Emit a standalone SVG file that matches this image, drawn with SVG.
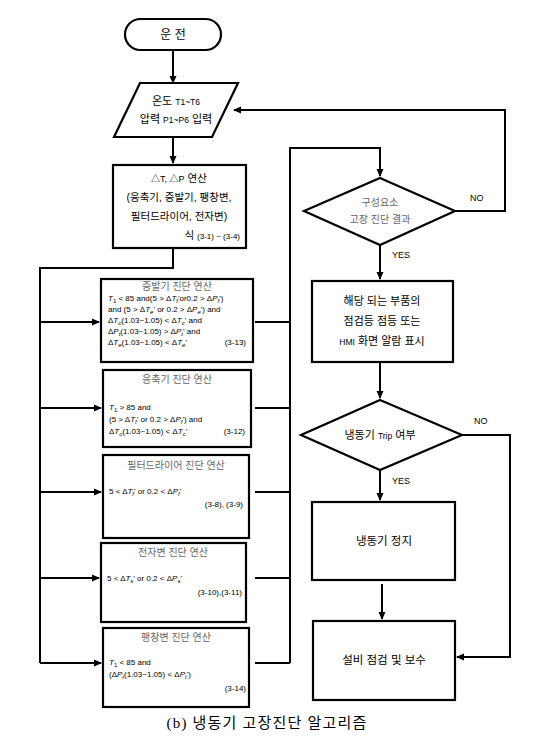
<svg xmlns="http://www.w3.org/2000/svg" width="546" height="740" viewBox="0 0 546 740">
<defs>
<marker id="ah" markerWidth="8" markerHeight="8" refX="7" refY="4" orient="auto" markerUnits="userSpaceOnUse">
<path d="M0,0.5 L8,4 L0,7.5 Z" fill="#000"/>
</marker>
<style>
.b{fill:#fff;stroke:#000;stroke-width:2.2}
.c{fill:none;stroke:#000;stroke-width:2}
.t{font-family:"Liberation Sans","Noto Sans CJK KR",sans-serif;fill:#000}
.g{font-family:"Liberation Sans","Noto Sans CJK KR",sans-serif;fill:#666;font-size:10px}
.f{font-family:"Liberation Sans","Noto Sans CJK KR",sans-serif;fill:#000;font-size:8px}
.i{font-style:italic}
</style>
</defs>
<rect width="546" height="740" fill="#fff"/>
<g id="connectors">
<path class="c" d="M173,50 V83" marker-end="url(#ah)"/>
<path class="c" d="M173,137 V163" marker-end="url(#ah)"/>
<path class="c" d="M173,248 V268 H40 V663"/>
<path class="c" d="M40,322 H99" marker-end="url(#ah)"/>
<path class="c" d="M40,408 H101" marker-end="url(#ah)"/>
<path class="c" d="M40,492 H101" marker-end="url(#ah)"/>
<path class="c" d="M40,578 H99" marker-end="url(#ah)"/>
<path class="c" d="M40,663 H101" marker-end="url(#ah)"/>
<path class="c" d="M255,322 H290 M255,408 H290 M255,492 H290 M255,578 H290 M255,663 H290"/>
<path class="c" d="M290,663 V148 H380 V176" marker-end="url(#ah)"/>
<path class="c" d="M455,211 H505 V110 H234" marker-end="url(#ah)"/>
<path class="c" d="M380,246 V279" marker-end="url(#ah)"/>
<path class="c" d="M380,363 V398" marker-end="url(#ah)"/>
<path class="c" d="M462,435 H510 V657 H457" marker-end="url(#ah)"/>
<path class="c" d="M380,471 V500" marker-end="url(#ah)"/>
<path class="c" d="M382,584 V619" marker-end="url(#ah)"/>
</g>
<g id="start">
<rect class="b" x="125" y="19" width="96" height="31" rx="15.5"/>
<text class="t" x="173" y="39" font-size="12" text-anchor="middle">운 전</text>
</g>
<g id="input">
<polygon class="b" points="140,83 238,83 212,137 114,137"/>
<text class="t" x="176" y="105" font-size="11" text-anchor="middle">온도 <tspan font-size="8.5">T1~T6</tspan></text>
<text class="t" x="176" y="123" font-size="11" text-anchor="middle">압력 <tspan font-size="8.5">P1~P6</tspan> 입력</text>
</g>
<g id="calc">
<rect class="b" x="113" y="165" width="133" height="83"/>
<text class="t" x="179" y="182" font-size="10.5" text-anchor="middle"><tspan font-size="9">△T, △P</tspan> 연산</text>
<text class="t" x="179" y="201" font-size="10.5" text-anchor="middle">(응축기, 증발기, 팽창변,</text>
<text class="t" x="179" y="220" font-size="10.5" text-anchor="middle">필터드라이어, 전자변)</text>
<text class="t" x="240" y="239" font-size="10.5" text-anchor="end">식 <tspan font-size="8">(3-1) ~ (3-4)</tspan></text>
</g>
<g id="evap">
<rect class="b" x="101" y="279" width="152" height="83"/>
<text class="g" x="177" y="290" text-anchor="middle">증발기 진단 연산</text>
<text class="f" x="108" y="301"><tspan class="i">T</tspan><tspan font-size="6" dy="1.5">1</tspan><tspan dy="-1.5"> &lt; 85 and(5 &gt; Δ</tspan><tspan class="i">T</tspan><tspan class="i" font-size="6" dy="1.5">f</tspan><tspan dy="-1.5">'or0.2 &gt; Δ</tspan><tspan class="i">P</tspan><tspan class="i" font-size="6" dy="1.5">f</tspan><tspan dy="-1.5">')</tspan></text>
<text class="f" x="108" y="312">and (5 &gt; Δ<tspan class="i">T</tspan><tspan class="i" font-size="6" dy="1.5">e</tspan><tspan dy="-1.5">' or 0.2 &gt; Δ</tspan><tspan class="i">P</tspan><tspan class="i" font-size="6" dy="1.5">e</tspan><tspan dy="-1.5">') and</tspan></text>
<text class="f" x="108" y="323">Δ<tspan class="i">T</tspan><tspan class="i" font-size="6" dy="1.5">c</tspan><tspan dy="-1.5">(1.03~1.05) &lt; Δ</tspan><tspan class="i">T</tspan><tspan class="i" font-size="6" dy="1.5">c</tspan><tspan dy="-1.5">' and</tspan></text>
<text class="f" x="108" y="334">Δ<tspan class="i">P</tspan><tspan class="i" font-size="6" dy="1.5">t</tspan><tspan dy="-1.5">(1.03~1.05) &gt; Δ</tspan><tspan class="i">P</tspan><tspan class="i" font-size="6" dy="1.5">t</tspan><tspan dy="-1.5">' and</tspan></text>
<text class="f" x="108" y="345">Δ<tspan class="i">T</tspan><tspan class="i" font-size="6" dy="1.5">e</tspan><tspan dy="-1.5">(1.03~1.05) &lt; Δ</tspan><tspan class="i">T</tspan><tspan class="i" font-size="6" dy="1.5">e</tspan><tspan dy="-1.5">'</tspan></text>
<text class="f" x="246" y="345" text-anchor="end">(3-13)</text>
</g>
<g id="cond">
<rect class="b" x="103" y="370" width="148" height="77"/>
<text class="g" x="177" y="383" text-anchor="middle">응축기 진단 연산</text>
<text class="f" x="109" y="410" font-size="9"><tspan class="i">T</tspan><tspan font-size="6" dy="1.5">1</tspan><tspan dy="-1.5"> &gt; 85 and</tspan></text>
<text class="f" x="109" y="422">(5 &gt; Δ<tspan class="i">T</tspan><tspan class="i" font-size="6" dy="1.5">f</tspan><tspan dy="-1.5">' or 0.2 &gt; Δ</tspan><tspan class="i">P</tspan><tspan class="i" font-size="6" dy="1.5">f</tspan><tspan dy="-1.5">') and</tspan></text>
<text class="f" x="109" y="434">Δ<tspan class="i">T</tspan><tspan class="i" font-size="6" dy="1.5">c</tspan><tspan dy="-1.5">(1.03~1.05) &lt; Δ</tspan><tspan class="i">T</tspan><tspan class="i" font-size="6" dy="1.5">c</tspan><tspan dy="-1.5">'</tspan></text>
<text class="f" x="245" y="434" text-anchor="end">(3-12)</text>
</g>
<g id="filter">
<rect class="b" x="103" y="455" width="146" height="83"/>
<text class="g" x="176" y="469" text-anchor="middle">필터드라이어 진단 연산</text>
<text class="f" x="109" y="494" font-size="9">5 &lt; Δ<tspan class="i">T</tspan><tspan class="i" font-size="6" dy="1.5">f</tspan><tspan dy="-1.5">' or 0.2 &lt; Δ</tspan><tspan class="i">P</tspan><tspan class="i" font-size="6" dy="1.5">f</tspan><tspan dy="-1.5">'</tspan></text>
<text class="f" x="243" y="507" text-anchor="end">(3-8), (3-9)</text>
</g>
<g id="solenoid">
<rect class="b" x="101" y="543" width="145" height="79"/>
<text class="g" x="173" y="556" text-anchor="middle">전자변 진단 연산</text>
<text class="f" x="107" y="581" font-size="9">5 &lt; Δ<tspan class="i">T</tspan><tspan class="i" font-size="6" dy="1.5">s</tspan><tspan dy="-1.5">' or 0.2 &lt; Δ</tspan><tspan class="i">P</tspan><tspan class="i" font-size="6" dy="1.5">s</tspan><tspan dy="-1.5">'</tspan></text>
<text class="f" x="242" y="595" text-anchor="end">(3-10),(3-11)</text>
</g>
<g id="expansion">
<rect class="b" x="103" y="628" width="146" height="79"/>
<text class="g" x="176" y="641" text-anchor="middle">팽창변 진단 연산</text>
<text class="f" x="109" y="665" font-size="9"><tspan class="i">T</tspan><tspan font-size="6" dy="1.5">1</tspan><tspan dy="-1.5"> &lt; 85 and</tspan></text>
<text class="f" x="109" y="677">(Δ<tspan class="i">P</tspan><tspan class="i" font-size="6" dy="1.5">t</tspan><tspan dy="-1.5">(1.03~1.05) &lt; Δ</tspan><tspan class="i">P</tspan><tspan class="i" font-size="6" dy="1.5">t</tspan><tspan dy="-1.5">')</tspan></text>
<text class="f" x="246" y="691" text-anchor="end">(3-14)</text>
</g>
<g id="result">
<polygon class="b" points="380,178 455,211 380,245 304,211"/>
<text class="g" x="380" y="206" text-anchor="middle">구성요소</text>
<text class="g" x="380" y="223" text-anchor="middle">고장 진단 결과</text>
</g>
<text class="t" x="470" y="201" font-size="9">NO</text>
<text class="t" x="392" y="258" font-size="9">YES</text>
<g id="alarm">
<rect class="b" x="312" y="281" width="141" height="81"/>
<text class="t" x="382" y="305" font-size="11" text-anchor="middle">해당 되는 부품의</text>
<text class="t" x="382" y="325" font-size="11" text-anchor="middle">점검등 점등 또는</text>
<text class="t" x="382" y="345" font-size="11" text-anchor="middle"><tspan font-size="8.5">HMI</tspan> 화면 알람 표시</text>
</g>
<g id="trip">
<polygon class="b" points="380,400 462,435 380,470 301,435"/>
<text class="t" x="380" y="439" font-size="11" text-anchor="middle">냉동기 <tspan font-size="8.5">Trip</tspan> 여부</text>
</g>
<text class="t" x="474" y="424" font-size="9">NO</text>
<text class="t" x="392" y="484" font-size="9">YES</text>
<g id="stop">
<rect class="b" x="312" y="502" width="143" height="78"/>
<text class="t" x="384" y="545" font-size="11.5" text-anchor="middle">냉동기 정지</text>
</g>
<g id="repair">
<rect class="b" x="313" y="621" width="142" height="79"/>
<text class="t" x="384" y="664" font-size="11.5" text-anchor="middle">설비 점검 및 보수</text>
</g>
<text x="267" y="728" font-family="'Liberation Serif','Noto Sans CJK KR',serif" font-size="15" letter-spacing="1.2" text-anchor="middle">(b) 냉동기 고장진단 알고리즘</text>
</svg>
